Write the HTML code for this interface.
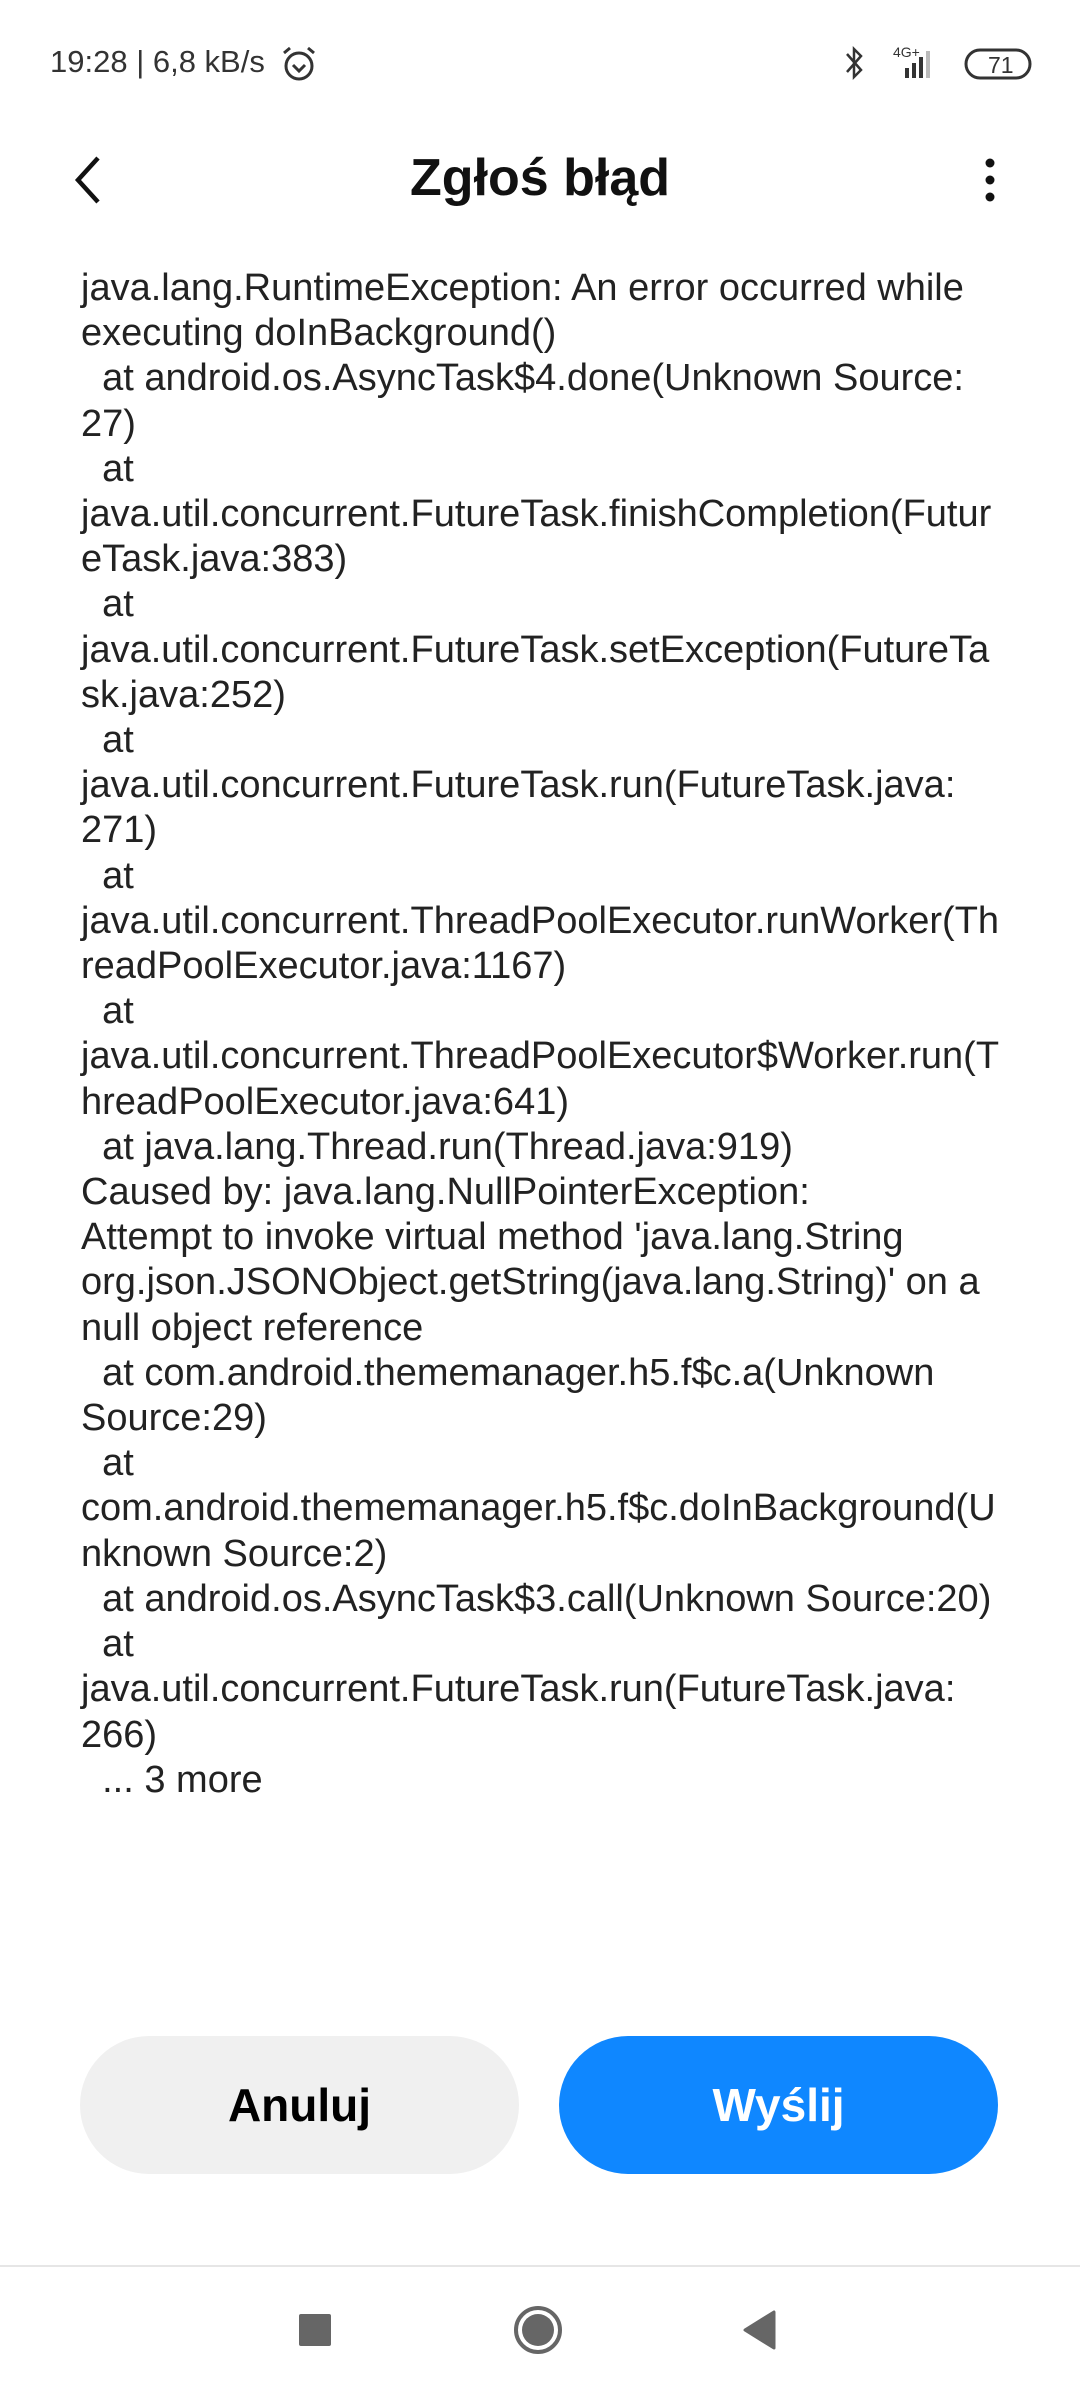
<!DOCTYPE html>
<html><head><meta charset="utf-8"><style>
html,body{margin:0;padding:0;background:#fff;width:1080px;height:2400px;overflow:hidden;position:relative;font-family:"Liberation Sans",sans-serif;}
.abs{position:absolute;}
#status{left:50px;top:44px;font-size:31px;color:#333;}
#title{left:0;width:1080px;top:148px;text-align:center;font-size:52px;font-weight:bold;color:#111;}
#log{left:81px;top:266px;font-size:38px;line-height:45.2px;color:#222;white-space:pre;}
.btn{top:2036px;height:138px;width:439px;border-radius:69px;font-size:46px;font-weight:bold;text-align:center;line-height:138px;}
</style></head><body>
<div id="status" class="abs">19:28 | 6,8 kB/s</div>
<svg class="abs" style="left:280px;top:45px" width="38" height="38" viewBox="0 0 38 38"><circle cx="19" cy="21" r="13" fill="none" stroke="#333" stroke-width="3"/><path d="M13 20l6 6 6-6" fill="none" stroke="#333" stroke-width="3"/><path d="M4 8l6-5M34 8l-6-5" stroke="#333" stroke-width="3"/></svg>
<svg class="abs" style="left:845px;top:42px" width="190" height="44" viewBox="0 0 190 44"><path d="M2 12l14 16-7 7V7l7 7L2 30" fill="none" stroke="#333" stroke-width="2.5"/><text x="48" y="15" font-size="14" fill="#333" font-family="Liberation Sans">4G+</text><rect x="60" y="26" width="4" height="10" fill="#333"/><rect x="67" y="21" width="4" height="15" fill="#333"/><rect x="74" y="15" width="4" height="21" fill="#333"/><rect x="81" y="9" width="4" height="27" fill="#bbb"/><rect x="121" y="8" width="64" height="28" rx="14" fill="none" stroke="#333" stroke-width="3"/><text x="143" y="31" font-size="23" fill="#333" font-family="Liberation Sans">71</text></svg>
<svg class="abs" style="left:70px;top:154px" width="36" height="52" viewBox="0 0 36 52"><path d="M28 4L8 26l20 22" fill="none" stroke="#111" stroke-width="4.5"/></svg>
<div id="title" class="abs">Zgłoś błąd</div>
<svg class="abs" style="left:980px;top:156px" width="20" height="50"><circle cx="10" cy="7" r="4.5" fill="#111"/><circle cx="10" cy="24" r="4.5" fill="#111"/><circle cx="10" cy="41" r="4.5" fill="#111"/></svg>
<div id="log" class="abs">java.lang.RuntimeException: An error occurred while
executing doInBackground()
  at android.os.AsyncTask$4.done(Unknown Source:
27)
  at
java.util.concurrent.FutureTask.finishCompletion(Futur
eTask.java:383)
  at
java.util.concurrent.FutureTask.setException(FutureTa
sk.java:252)
  at
java.util.concurrent.FutureTask.run(FutureTask.java:
271)
  at
java.util.concurrent.ThreadPoolExecutor.runWorker(Th
readPoolExecutor.java:1167)
  at
java.util.concurrent.ThreadPoolExecutor$Worker.run(T
hreadPoolExecutor.java:641)
  at java.lang.Thread.run(Thread.java:919)
Caused by: java.lang.NullPointerException:
Attempt to invoke virtual method 'java.lang.String
org.json.JSONObject.getString(java.lang.String)' on a
null object reference
  at com.android.thememanager.h5.f$c.a(Unknown
Source:29)
  at
com.android.thememanager.h5.f$c.doInBackground(U
nknown Source:2)
  at android.os.AsyncTask$3.call(Unknown Source:20)
  at
java.util.concurrent.FutureTask.run(FutureTask.java:
266)
  ... 3 more</div>
<div class="abs btn" style="left:80px;background:#f0f0f0;color:#000;">Anuluj</div>
<div class="abs btn" style="left:559px;background:#0f87ff;color:#fff;">Wyślij</div>
<div class="abs" style="left:0;top:2265px;width:1080px;height:2px;background:#e6e6e6"></div>
<div class="abs" style="left:299px;top:2314px;width:32px;height:32px;background:#666;border-radius:2px"></div>
<svg class="abs" style="left:512px;top:2304px" width="52" height="52"><circle cx="26" cy="26" r="22" fill="none" stroke="#666" stroke-width="4"/><circle cx="26" cy="26" r="16" fill="#666"/></svg>
<svg class="abs" style="left:742px;top:2310px" width="36" height="40"><path d="M32 2v36L3 20z" fill="#666" stroke="#666" stroke-width="3" stroke-linejoin="round"/></svg>
</body></html>
